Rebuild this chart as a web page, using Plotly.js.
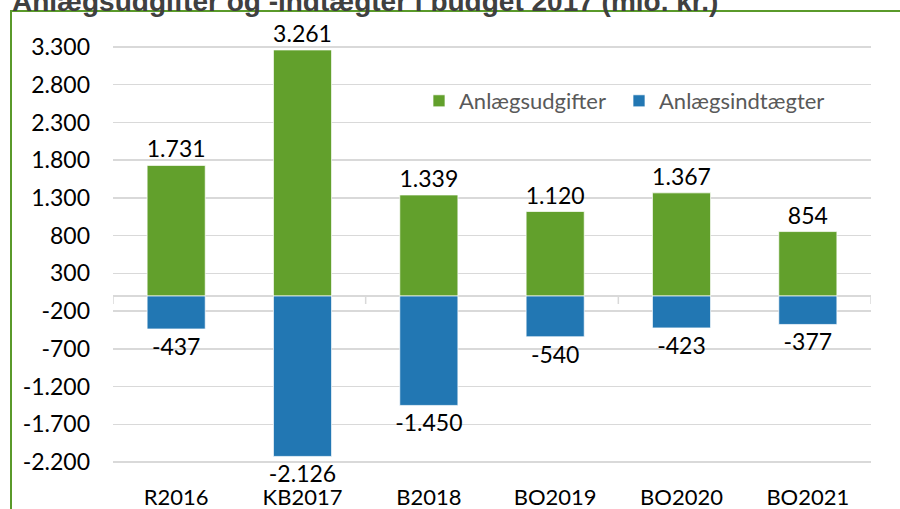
<!DOCTYPE html>
<html>
<head>
<meta charset="utf-8">
<script src="https://cdn.plot.ly/plotly-3.0.1.min.js"></script>
<style>
  html, body { margin: 0; padding: 0; background: #ffffff; }
  #chart { width: 900px; height: 509px; }
</style>
</head>
<body>
<div id="chart"></div>
<script>
// Data
const categories = ["R2016", "KB2017", "B2018", "BO2019", "BO2020", "BO2021"];
const anlaegsudgifter = [1731, 3261, 1339, 1120, 1367, 854];
const anlaegsindtaegter = [-437, -2126, -1450, -540, -423, -377];
const yTickVals = [3300, 2800, 2300, 1800, 1300, 800, 300, -200, -700, -1200, -1700, -2200];
const yTickText = ["3.300", "2.800", "2.300", "1.800", "1.300", "800", "300", "-200", "-700", "-1.200", "-1.700", "-2.200"];
const seriesNames = ["Anlægsudgifter", "Anlægsindtægter"];
const titleText = "Anlægsudgifter og -indtægter i budget 2017 (mio. kr.)";

function fmt(v) {
  const s = Math.abs(v).toString().replace(/\B(?=(\d{3})+(?!\d))/g, ".");
  return (v < 0 ? "-" : "") + s;
}

const W = 900, H = 509;
const L = 113, R = 29, T = 36, B = 39;
const pw = W - L - R, ph = H - T - B;
const px2x = px => (px - L) / pw;
const py2y = py => (H - B - py) / ph;

const FAM = "Lato, 'Open Sans', sans-serif";
const textFont = { family: FAM, size: 23, color: "#000000" };

const traces = [
  {
    type: "bar",
    name: seriesNames[0],
    x: categories,
    y: anlaegsudgifter,
    text: anlaegsudgifter.map(fmt),
    textposition: "outside",
    constraintext: "none",
    textfont: textFont,
    cliponaxis: false,
    marker: { color: "#62a02c", line: { color: "rgba(255,255,255,0.7)", width: 1 } },
    width: 0.46,
    legend: "legend",
    hoverinfo: "x+y"
  },
  {
    type: "bar",
    name: seriesNames[1],
    x: categories,
    y: anlaegsindtaegter,
    text: anlaegsindtaegter.map(fmt),
    textposition: "outside",
    constraintext: "none",
    textfont: textFont,
    cliponaxis: false,
    marker: { color: "#2277b3", line: { color: "rgba(255,255,255,0.7)", width: 1 } },
    width: 0.46,
    legend: "legend2",
    hoverinfo: "x+y"
  }
];

const tickShapes = [-0.5, 1.5, 3.5, 5.5].map(xv => ({
  type: "line", xref: "x", yref: "paper",
  x0: xv, x1: xv, y0: py2y(296), y1: py2y(304),
  line: { color: "#d9d9d9", width: 1.5 }, layer: "above"
}));

const legendBase = {
  orientation: "h",
  xanchor: "left",
  y: py2y(101), yanchor: "middle",
  font: { family: FAM, size: 22, color: "#595959" },
  bgcolor: "rgba(0,0,0,0)"
};

const layout = {
  width: W, height: H,
  margin: { l: L, r: R, t: T, b: B, pad: 0, autoexpand: false },
  paper_bgcolor: "#ffffff",
  plot_bgcolor: "#ffffff",
  barmode: "relative",
  showlegend: true,
  separators: ",.",
  font: { family: FAM, size: 23, color: "#000000" },
  legend: Object.assign({}, legendBase, { x: px2x(419) }),
  legend2: Object.assign({}, legendBase, { x: px2x(619) }),
  xaxis: {
    type: "category",
    range: [-0.5, 5.5],
    showgrid: false,
    showline: false,
    zeroline: false,
    ticks: "",
    ticklabelstandoff: 12,
    tickfont: { family: FAM, size: 22, color: "#000000" },
    fixedrange: true
  },
  yaxis: {
    range: [-2306, 3446],
    tickvals: yTickVals,
    ticktext: yTickText,
    showgrid: true,
    gridcolor: "#d9d9d9",
    gridwidth: 1.5,
    zeroline: true,
    zerolinecolor: "#d9d9d9",
    zerolinewidth: 2,
    showline: false,
    ticks: "",
    ticklabelstandoff: 22,
    tickfont: { family: FAM, size: 23, color: "#000000" },
    fixedrange: true
  },
  shapes: [
    {
      type: "rect", xref: "paper", yref: "paper",
      x0: px2x(11), x1: px2x(960), y0: py2y(560), y1: py2y(11),
      line: { color: "#5a9a2a", width: 2 }, fillcolor: "rgba(0,0,0,0)", layer: "below"
    }
  ].concat(tickShapes),
  annotations: [
    {
      text: "<b>" + titleText + "</b>",
      xref: "paper", yref: "paper",
      x: px2x(10), xanchor: "left",
      y: py2y(1), yanchor: "middle",
      showarrow: false,
      font: { family: "'Liberation Sans', Arial, sans-serif", size: 28, color: "#404040" }
    }
  ]
};

Plotly.newPlot("chart", traces, layout, { displayModeBar: false, staticPlot: true });
</script>
</body>
</html>
